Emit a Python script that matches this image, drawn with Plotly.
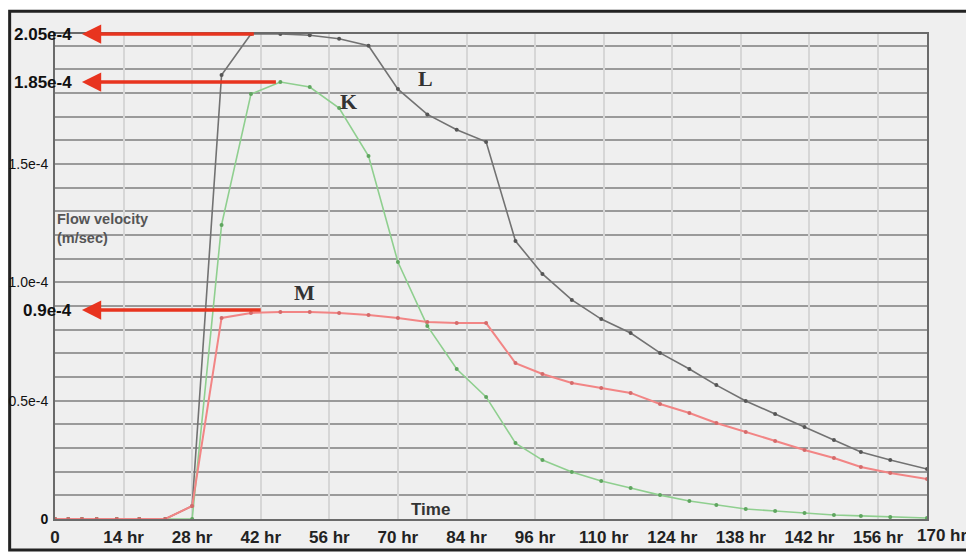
import plotly.graph_objects as go

# ---- data (time in hours, velocity in m/sec) ----
time_hr = [0, 2.7, 5.5, 8.5, 12.6, 17.2, 22.5, 28, 34, 40, 46, 52, 58, 64, 70, 76, 82, 88, 94,
           99.5, 105.5, 111.5, 117.5, 123.5, 129.5, 135, 141, 147, 153, 159, 164.5, 170.5, 178]

L_vel = [0, 0, 0, 0, 0, 0, 0, 0.055e-4, 1.877e-4, 2.05e-4, 2.05e-4, 2.045e-4, 2.03e-4, 2.0e-4,
         1.817e-4, 1.71e-4, 1.645e-4, 1.594e-4, 1.175e-4, 1.036e-4, 0.926e-4, 0.845e-4, 0.786e-4,
         0.702e-4, 0.634e-4, 0.566e-4, 0.499e-4, 0.444e-4, 0.389e-4, 0.334e-4, 0.283e-4,
         0.249e-4, 0.211e-4]

K_vel = [0, 0, 0, 0, 0, 0, 0, 0, 1.243e-4, 1.796e-4, 1.847e-4, 1.826e-4, 1.737e-4, 1.534e-4,
         1.086e-4, 0.816e-4, 0.634e-4, 0.516e-4, 0.321e-4, 0.249e-4, 0.199e-4, 0.161e-4, 0.131e-4,
         0.101e-4, 0.076e-4, 0.059e-4, 0.042e-4, 0.034e-4, 0.025e-4, 0.017e-4, 0.013e-4,
         0.008e-4, 0.004e-4]

M_vel = [0, 0, 0, 0, 0, 0, 0, 0.055e-4, 0.85e-4, 0.871e-4, 0.875e-4, 0.875e-4, 0.871e-4,
         0.862e-4, 0.85e-4, 0.833e-4, 0.828e-4, 0.828e-4, 0.659e-4, 0.613e-4, 0.575e-4, 0.554e-4,
         0.533e-4, 0.486e-4, 0.448e-4, 0.406e-4, 0.368e-4, 0.330e-4, 0.292e-4, 0.258e-4,
         0.220e-4, 0.194e-4, 0.169e-4]

x_tickvals = [0, 14, 28, 42, 56, 70, 84, 98, 112, 126, 140, 154, 168]
x_ticktext = ['0', '14 hr', '28 hr', '42 hr', '56 hr', '70 hr', '84 hr', '96 hr', '110 hr',
              '124 hr', '138 hr', '142 hr', '156 hr']
x_last_label = '170 hr'

y_tickvals = [0, 0.5e-4, 1.0e-4, 1.5e-4]
y_ticktext = ['<b>0</b>', '0.5e-4', '1.0e-4', '1.5e-4']

marked_values = [2.05e-4, 1.847e-4, 0.883e-4]
marked_labels = ['2.05e-4', '1.85e-4', '0.9e-4']
arrow_tails_hr = [40.9, 45.4, 42.3]

curve_labels = ['L', 'K', 'M']
curve_label_x = [75.6, 59.9, 50.9]
curve_label_y = [1.86e-4, 1.763e-4, 0.959e-4]

BG = '#efefef'

fig = go.Figure()
fig.add_trace(go.Scatter(x=time_hr, y=L_vel, mode='lines+markers', name='L',
                         line=dict(color='#727272', width=1.6),
                         marker=dict(color='#555555', size=4)))
fig.add_trace(go.Scatter(x=time_hr, y=K_vel, mode='lines+markers', name='K',
                         line=dict(color='#8fcf8f', width=1.6),
                         marker=dict(color='#5fa55f', size=4)))
fig.add_trace(go.Scatter(x=time_hr, y=M_vel, mode='lines+markers', name='M',
                         line=dict(color='#f28585', width=2),
                         marker=dict(color='#d46a6a', size=4)))

annotations = []
for v, lab, tail in zip(marked_values, marked_labels, arrow_tails_hr):
    annotations.append(dict(xref='paper', yref='y', x=0.022, y=v, text=lab, showarrow=False,
                            xanchor='right', yanchor='middle',
                            font=dict(family='Liberation Sans, Arial', size=17,
                                      color='#111111', weight='bold')))
    annotations.append(dict(xref='x', yref='y', axref='x', ayref='y', x=5.5, y=v, ax=tail, ay=v,
                            text='', showarrow=True, arrowhead=2, arrowsize=1.1,
                            arrowwidth=3.5, arrowcolor='#e8341f', standoff=0, startstandoff=0))
for lab, lx, ly in zip(curve_labels, curve_label_x, curve_label_y):
    annotations.append(dict(xref='x', yref='y', x=lx, y=ly, text=lab, showarrow=False,
                            font=dict(family='Liberation Serif, Times New Roman', size=22,
                                      color='#333333', weight='bold')))
annotations.append(dict(xref='paper', yref='y', x=0.0, y=1.226e-4, text='Flow velocity<br>(m/sec)',
                        showarrow=False, xanchor='left', yanchor='middle', align='left',
                        font=dict(family='Liberation Sans, Arial', size=14.5, color='#555555',
                                  weight='bold')))
annotations.append(dict(xref='x', yref='y', x=76.6, y=0.042e-4, text='Time', showarrow=False,
                        font=dict(family='Liberation Sans, Arial', size=17, color='#333333',
                                  weight='bold')))
annotations.append(dict(xref='paper', yref='paper', x=1.017, y=-0.034, text=x_last_label,
                        showarrow=False, yanchor='middle', xanchor='center',
                        font=dict(family='Liberation Sans, Arial', size=17, color='#222222',
                                  weight='bold')))

# the page body adds an 8px offset, so the figure is 8px smaller than the window
fig.update_layout(
    width=966, height=545,
    margin=dict(l=47, r=47, t=26, b=34, autoexpand=False),
    paper_bgcolor='white', plot_bgcolor=BG,
    showlegend=False,
    annotations=annotations,
    shapes=[dict(type='rect', xref='paper', yref='paper',
                 x0=-0.052, x1=1.08, y0=-0.064, y1=1.047,
                 line=dict(color='#222222', width=3), fillcolor=BG, layer='below')],
    xaxis=dict(range=[0, 178], tickmode='array', tickvals=x_tickvals, ticktext=x_ticktext,
               automargin=False,
               showgrid=True, gridcolor='#d6d6d6', gridwidth=1.5, zeroline=False,
               showline=True, linecolor='#6a6a6a', linewidth=2, mirror=True, ticks='',
               ticklabelstandoff=2,
               tickfont=dict(family='Liberation Sans, Arial', size=17, color='#222222',
                             weight='bold')),
    yaxis=dict(range=[0, 2.05e-4], tickmode='array', tickvals=y_tickvals, ticktext=y_ticktext,
               automargin=False,
               showgrid=True, gridcolor='#9a9a9a', gridwidth=2, zeroline=False,
               showline=True, linecolor='#6a6a6a', linewidth=2, mirror=True, ticks='',
               ticklabelstandoff=2,
               minor=dict(tickmode='linear', tick0=0, dtick=1e-5, showgrid=True,
                          gridcolor='#9a9a9a', gridwidth=2, ticks=''),
               tickfont=dict(family='Liberation Sans, Arial', size=14, color='#111111')),
)

fig.write_html('out.html')
